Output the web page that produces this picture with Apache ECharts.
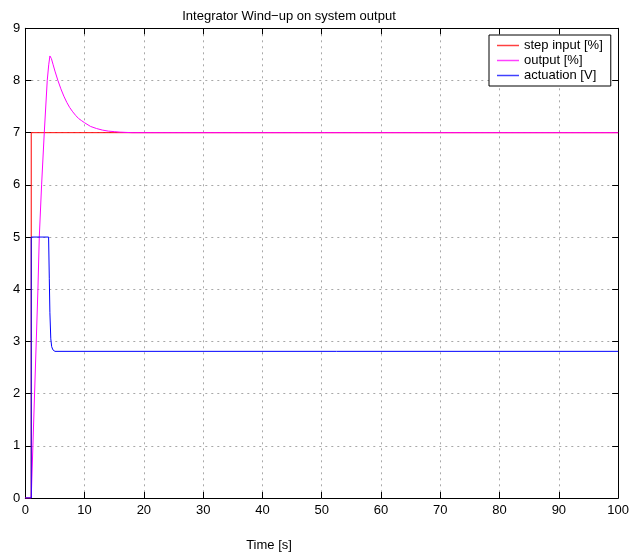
<!DOCTYPE html>
<html>
<head>
<meta charset="utf-8">
<script src="https://cdn.jsdelivr.net/npm/echarts@6/dist/echarts.min.js"></script>
<style>
  html, body { margin: 0; padding: 0; background: #fff; }
  #chart { width: 632px; height: 557px; }
</style>
</head>
<body>
<div id="chart"></div>
<script>
// Step reference [%]
const stepTime = [0, 1, 1, 100];
const stepVals = [0, 0, 7, 7];

// Plant output [%]
const outTime = [0, 1, 2.13, 2.36, 2.75, 3.2, 3.7, 3.95, 4.15, 4.4, 4.7, 5.0, 5.5, 6.0, 6.5, 7.0, 7.5, 8.0, 8.5, 9.0, 9.5, 10, 11, 12, 13, 14, 15, 16, 18, 100];
const outVals = [0, 0, 4.0, 5.0, 6.0, 7.0, 8.0, 8.3, 8.47, 8.42, 8.3, 8.18, 8.0, 7.84, 7.7, 7.58, 7.48, 7.4, 7.33, 7.27, 7.23, 7.19, 7.12, 7.08, 7.05, 7.03, 7.02, 7.01, 7.0, 7.0];

// Controller actuation [V]
const actTime = [0, 1, 1, 3.93, 4.05, 4.15, 4.3, 4.45, 4.65, 5.0, 100];
const actVals = [0, 0, 5, 5, 4.2, 3.55, 3.05, 2.9, 2.84, 2.81, 2.81];

const seriesNames = ['step input [%]', 'output [%]', 'actuation [V]'];
const seriesColors = ['#ff0000', '#ff00ff', '#0000ff'];

const xTicks = { min: 0, max: 100, interval: 10 };
const yTicks = { min: 0, max: 9, interval: 1 };

const pairs = (t, v) => t.map((x, i) => [x, v[i]]);

const FONT = '"Liberation Sans", Arial, Helvetica, sans-serif';

const chart = echarts.init(document.getElementById('chart'), null, { renderer: 'canvas' });

const gridLine = { show: true, lineStyle: { color: '#a8a8a8', width: 1, type: [2, 4] } };
const axisLine = { show: true, onZero: false, lineStyle: { color: '#000', width: 1 } };
const tick = { show: true, inside: true, length: 6, lineStyle: { color: '#000' } };

chart.setOption({
  animation: false,
  backgroundColor: '#fff',
  grid: { left: 25.3, right: 11.7, top: 28.3, bottom: 59, containLabel: false },
  xAxis: [
    {
      type: 'value', position: 'bottom', ...xTicks,
      axisLine, axisTick: tick, splitLine: gridLine,
      axisLabel: { color: '#000', fontSize: 13, fontFamily: FONT, margin: 6 }
    },
    {
      type: 'value', position: 'top', ...xTicks,
      axisLine, axisTick: tick, splitLine: { show: false },
      axisLabel: { show: false }
    }
  ],
  yAxis: [
    {
      type: 'value', position: 'left', ...yTicks,
      axisLine, axisTick: tick, splitLine: gridLine,
      axisLabel: { color: '#000', fontSize: 13, fontFamily: FONT, margin: 5 }
    },
    {
      type: 'value', position: 'right', ...yTicks,
      axisLine, axisTick: tick, splitLine: { show: false },
      axisLabel: { show: false }
    }
  ],
  legend: {
    orient: 'vertical',
    left: 489, top: 35,
    backgroundColor: '#fff',
    borderColor: '#000', borderWidth: 1, borderRadius: 0,
    padding: [3, 8, 3, 8],
    icon: 'rect',
    itemWidth: 22, itemHeight: 1.5, itemGap: 0, itemTextGap: 10,
    textStyle: { color: '#000', fontSize: 13, fontFamily: FONT, lineHeight: 15 },
    data: seriesNames.map((name, i) => ({
      name,
      icon: 'rect',
      itemStyle: { color: seriesColors[i], borderWidth: 0, opacity: 0.75 }
    }))
  },
  graphic: [
    {
      type: 'text',
      style: {
        text: 'Integrator Wind\u2212up on system output',
        x: 289, y: 16, textAlign: 'center', textVerticalAlign: 'middle',
        font: '13px ' + FONT, fill: '#000'
      }
    },
    {
      type: 'text',
      style: {
        text: 'Time [s]',
        x: 269, y: 545, textAlign: 'center', textVerticalAlign: 'middle',
        font: '13px ' + FONT, fill: '#000'
      }
    }
  ],
  series: [
    { name: seriesNames[0], type: 'line', data: pairs(stepTime, stepVals) },
    { name: seriesNames[1], type: 'line', data: pairs(outTime, outVals) },
    { name: seriesNames[2], type: 'line', data: pairs(actTime, actVals) }
  ].map((s, i) => Object.assign(s, {
    symbol: 'none', showSymbol: false,
    xAxisIndex: 0, yAxisIndex: 0,
    color: seriesColors[i],
    itemStyle: { color: seriesColors[i] },
    lineStyle: { color: seriesColors[i], width: 1 },
    emphasis: { disabled: true }
  }))
});
</script>
</body>
</html>
